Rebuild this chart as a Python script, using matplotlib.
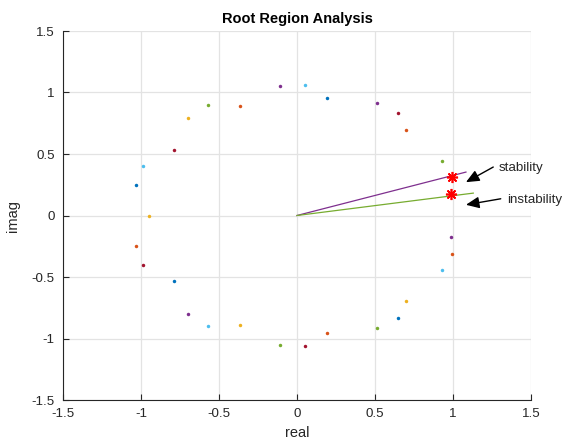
import matplotlib
matplotlib.use("Agg")
import matplotlib.pyplot as plt

plt.rcParams['font.family'] = ['Liberation Sans', 'DejaVu Sans']
plt.rcParams['axes.unicode_minus'] = False

# Root locations grouped by plotted series (MATLAB color order)
blue_re = [0.192, -1.034, -0.790, 0.645]
blue_im = [0.954, 0.244, -0.532, -0.831]
orange_re = [-0.365, 0.701, -1.034, 0.192, 0.996]
orange_im = [0.888, 0.693, -0.245, -0.954, -0.312]
yellow_re = [-0.701, -0.951, -0.365, 0.701]
yellow_im = [0.796, 0.000, -0.891, -0.693]
purple_re = [-0.111, 0.511, -0.701, 0.990]
purple_im = [1.051, 0.913, -0.799, -0.174]
green_re = [-0.568, 0.927, -0.111, 0.511]
green_im = [0.902, 0.440, -1.051, -0.913]
lblue_re = [0.053, -0.985, -0.568, 0.927]
lblue_im = [1.062, 0.405, -0.902, -0.440]
dred_re = [0.645, -0.790, -0.985, 0.053]
dred_im = [0.831, 0.532, -0.405, -1.062]

# Highlighted roots
stab_root = (0.994, 0.312)
instab_root = (0.987, 0.177)

# Boundary rays from origin
stab_ray_re = [0.0, 1.083]
stab_ray_im = [0.0, 0.353]
instab_ray_re = [0.0, 1.130]
instab_ray_im = [0.0, 0.182]

ticks = [-1.5, -1, -0.5, 0, 0.5, 1, 1.5]
tick_labels = ['-1.5', '-1', '-0.5', '0', '0.5', '1', '1.5']

series = [
    (blue_re, blue_im, '#0072BD'),
    (orange_re, orange_im, '#D95319'),
    (yellow_re, yellow_im, '#EDB120'),
    (purple_re, purple_im, '#7E2F8E'),
    (green_re, green_im, '#77AC30'),
    (lblue_re, lblue_im, '#4DBEEE'),
    (dred_re, dred_im, '#A2142F'),
]

fig = plt.figure(figsize=(5.65, 4.48), dpi=100)
ax = fig.add_axes([63/565, 1 - 400/448, (531-63)/565, (400-31)/448])

for re, im, c in series:
    ax.plot(re, im, linestyle='none', marker='o', markersize=2.5,
            markerfacecolor=c, markeredgecolor=c, markeredgewidth=0)

ax.plot(stab_ray_re, stab_ray_im, color='#7E2F8E', linewidth=0.9)
ax.plot(instab_ray_re, instab_ray_im, color='#77AC30', linewidth=0.9)

for r in (stab_root, instab_root):
    ax.plot([r[0]], [r[1]], linestyle='none', marker=(8, 2, 0), markersize=8,
            markeredgecolor='red', markeredgewidth=1.2)
    ax.plot([r[0]], [r[1]], linestyle='none', marker='o', markersize=2.5,
            markerfacecolor='red', markeredgewidth=0)

arrow = dict(arrowstyle='-|>,head_length=0.8,head_width=0.35', color='black',
             lw=1.0, shrinkA=0, shrinkB=0)
ax.annotate('', xy=(1.083, 0.271), xytext=(1.258, 0.394), arrowprops=arrow)
ax.annotate('', xy=(1.083, 0.087), xytext=(1.306, 0.136), arrowprops=arrow)
ax.text(1.295, 0.389, 'stability', fontsize=9.6, color='#262626',
        va='center', ha='left')
ax.text(1.344, 0.122, 'instability', fontsize=9.6, color='#262626',
        va='center', ha='left')

ax.set_xlim(-1.5, 1.5)
ax.set_ylim(-1.5, 1.5)
ax.set_xticks(ticks)
ax.set_xticklabels(tick_labels)
ax.set_yticks(ticks)
ax.set_yticklabels(tick_labels)
ax.grid(True, color='#e3e3e3', linewidth=0.9)
ax.set_axisbelow(True)
ax.spines['top'].set_visible(False)
ax.spines['right'].set_visible(False)
for s in ('left', 'bottom'):
    ax.spines[s].set_color('#262626')
    ax.spines[s].set_linewidth(0.8)
ax.tick_params(direction='in', length=4, width=0.8, colors='#262626',
               labelsize=9.6, labelcolor='#262626', pad=6)

ax.set_title('Root Region Analysis', fontsize=10.5, fontweight='bold',
             color='black', pad=6)
ax.set_xlabel('real', fontsize=10.5, color='#262626', labelpad=4)
ax.set_ylabel('imag', fontsize=10.5, color='#262626', labelpad=8)

fig.savefig('out.png', dpi=100)
